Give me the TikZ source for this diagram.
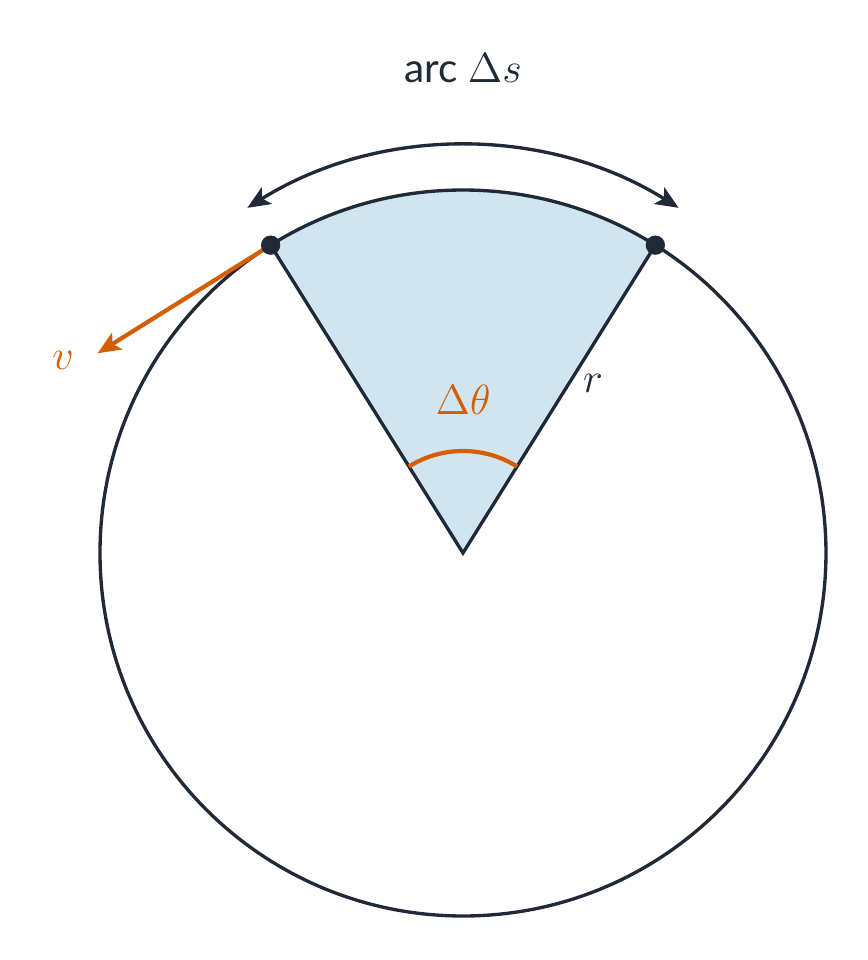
\documentclass[tikz,border=0pt]{standalone}
\usepackage{fontspec}
\setmainfont{Lato}
\usepackage{amsmath}
\usetikzlibrary{arrows.meta,positioning}
\definecolor{ink}{HTML}{1F2937}
\definecolor{accent}{HTML}{D55E00}
\definecolor{sectorfill}{HTML}{D1E5F0}
\newcommand{\radius}{3.63}
\tikzset{
  every picture/.style = {
    line width = 0.95pt,
    >={Stealth[length=6.5pt,width=5.5pt,inset=1.5pt]},
    font = \fontsize{11.5}{14}\selectfont
  }
  ,
  rim/.style = {
    draw = ink
  }
  , % end points on the rim
  point/.style = {
    circle,
    fill = ink,
    inner sep = 0pt,
    minimum size = 5.5pt
  }
  , % orange strokes
  accent-line/.style = {
    draw = accent,
    line width = 1.2pt
  }
  , % orange labels
  label-accent/.style = {
    text = accent
  }
}

\begin{document}
\begin{tikzpicture}
\useasboundingbox (-4.63,-4.07) rectangle (4.05,5.53);
\coordinate (o) at (0,0);
\coordinate (a) at (122:\radius);
\coordinate (b) at (58:\radius);

% sector
\fill[sectorfill] (o) -- (b) arc[start angle=58, end angle=122, radius=\radius] -- cycle;
\draw[rim] (o) circle (\radius);
\draw[rim] (a) -- (o) -- (b);

% arc length
\draw[rim, <->] (122:4.07) arc[start angle=122, end angle=58, radius=4.07];
\node[text=ink] (s) at (0,4.85) {arc $\Delta s$};

% angle
\draw[accent-line] (58:1.02) arc[start angle=58, end angle=122, radius=1.02];
\node[label-accent] (theta) at (0,1.53) {$\Delta\theta$};
\node[text=ink] (r) at (1.30,1.70) {$r$};

% velocity
\draw[accent-line, ->] (a) -- ++(212:2.04) coordinate (vend);
\node[label-accent] (v) at (-4.00,1.93) {$v$};

\node[point] (pa) at (a) {};
\node[point] (pb) at (b) {};
\end{tikzpicture}
\end{document}
